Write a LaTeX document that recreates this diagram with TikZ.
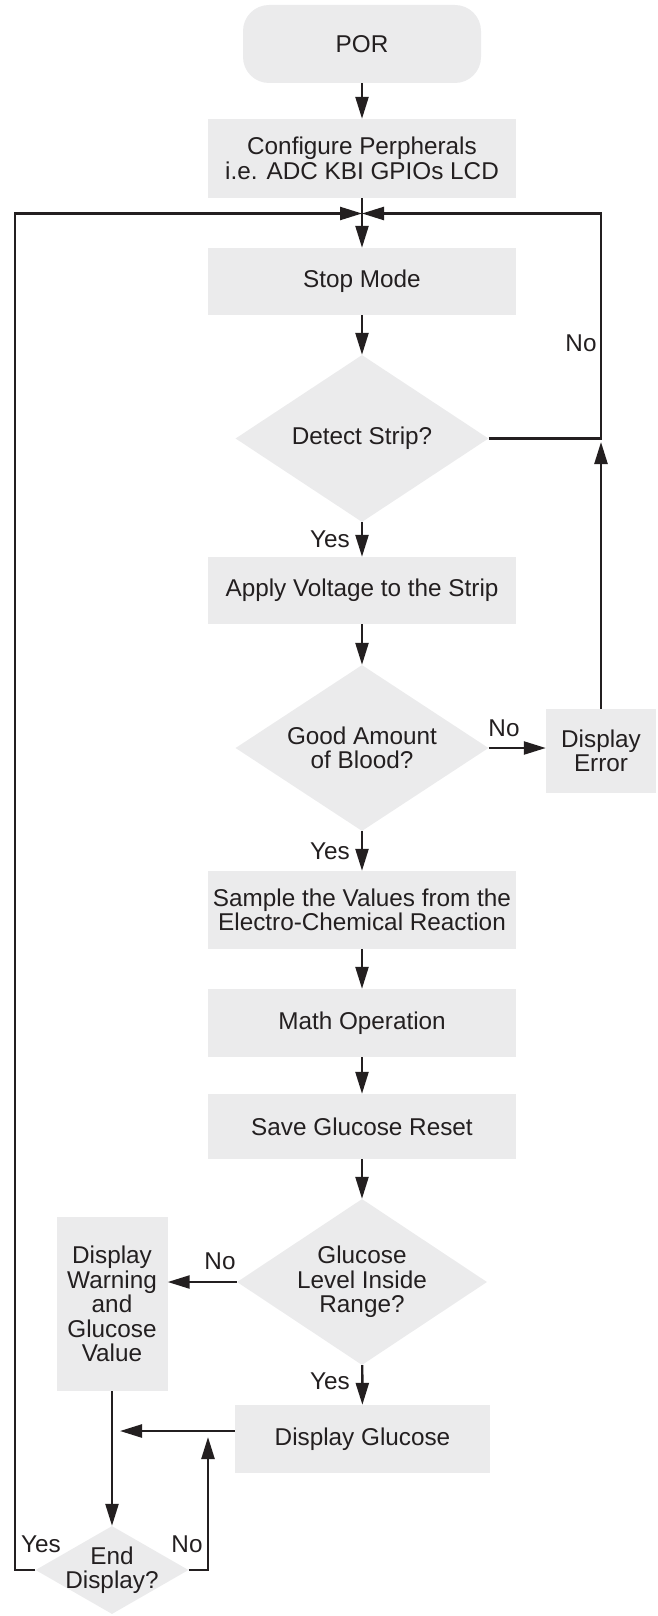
\documentclass[tikz,border=0pt]{standalone}
\usepackage{fontspec}
\setmainfont{Liberation Sans}
\usetikzlibrary{shapes.geometric,arrows.meta}
\definecolor{boxfill}{RGB}{235,235,236}
\definecolor{ink}{RGB}{35,31,32}
\begin{document}
\begin{tikzpicture}[x=1pt,y=-1pt,
  every node/.style={font=\fontsize{24.3}{24.5}\selectfont, text=ink},
  proc/.style={rectangle, fill=boxfill, inner sep=0pt, align=center},
  term/.style={rectangle, rounded corners=26pt, fill=boxfill, inner sep=0pt, align=center},
  dec/.style={diamond, fill=boxfill, inner sep=0pt, align=center, shape aspect=1.52},
  flow/.style={draw=ink, line width=2.4pt, -{Triangle[length=22pt,width=13pt]}},
  lbl/.style={inner sep=0pt}
]
\useasboundingbox (0,0) rectangle (658,1616);

\node[term, minimum width=238pt, minimum height=78pt] (por) at (362,44) {POR};
\node[proc, minimum width=308pt, minimum height=79pt] (conf) at (362,158.5) {Configure Perpherals\\i.e. ADC KBI GPIOs LCD};
\node[proc, minimum width=308pt, minimum height=67pt] (stop) at (362,281.5) {Stop Mode};
\node[dec, minimum width=253pt, minimum height=167pt] (detect) at (362,438.5) {Detect Strip?};
\node[proc, minimum width=308pt, minimum height=67pt] (apply) at (362,590.5) {Apply Voltage to the Strip};
\node[dec, minimum width=253pt, minimum height=166pt] (blood) at (362,748) {Good Amount\\of Blood?};
\node[proc, minimum width=110pt, minimum height=84pt] (err) at (601,751) {Display\\Error};
\node[proc, minimum width=308pt, minimum height=78pt] (sample) at (362,910) {Sample the Values from the\\Electro-Chemical Reaction};
\node[proc, minimum width=308pt, minimum height=68pt] (math) at (362,1023) {Math Operation};
\node[proc, minimum width=308pt, minimum height=65pt] (save) at (362,1126.5) {Save Glucose Reset};
\node[dec, minimum width=250pt, minimum height=166pt] (gluc) at (362,1282) {Glucose\\Level Inside\\Range?};
\node[proc, minimum width=111pt, minimum height=174pt] (warn) at (112,1304) {Display\\Warning\\and\\Glucose\\Value};
\node[proc, minimum width=255pt, minimum height=68pt] (dispg) at (362.5,1439) {Display Glucose};
\node[dec, shape aspect=1.74, inner xsep=-16pt, inner ysep=-8pt, minimum width=153pt, minimum height=88pt] (endd) at (112,1570) {End\\Display?};

\coordinate (J) at (362,213.5);
\coordinate (R) at (601,213.5);
\coordinate (L) at (15,213.5);
\coordinate (Rtip) at (601,442);
\coordinate (M) at (120,1431);
\coordinate (N) at (208,1437);

\draw[flow] (por) -- (conf);
\draw[flow] (conf) -- (stop);
\draw[flow] (stop) -- (detect);
\draw[flow] (detect) -- (apply);
\draw[flow] (apply) -- (blood);
\draw[flow] (blood) -- (sample);
\draw[flow] (sample) -- (math);
\draw[flow] (math) -- (save);
\draw[flow] (save) -- (gluc);
\draw[flow] (gluc) -- (dispg);
\draw[flow] (detect.east) -| (R) -- (J);
\draw[flow] (err.north) -- (Rtip);
\draw[flow] (blood.east) -- (blood.east -| err.west);
\draw[flow] (gluc.west) -- (gluc.west -| warn.east);
\draw[flow] (dispg.west |- M) -- (M);
\draw[flow] (warn.south) -- (endd.north);
\draw[flow] (endd.west) -| (L) -- (J);
\draw[flow] (endd.east) -| (N);

\node[lbl] (yes1) at (330,539) {Yes};
\node[lbl] (yes2) at (330,851) {Yes};
\node[lbl] (yes3) at (330,1381) {Yes};
\node[lbl] (no1) at (581,343) {No};
\node[lbl] (no2) at (504,728) {No};
\node[lbl] (no3) at (220,1261) {No};
\node[lbl] (yes4) at (41,1544) {Yes};
\node[lbl] (no4) at (187,1544) {No};
\end{tikzpicture}
\end{document}
